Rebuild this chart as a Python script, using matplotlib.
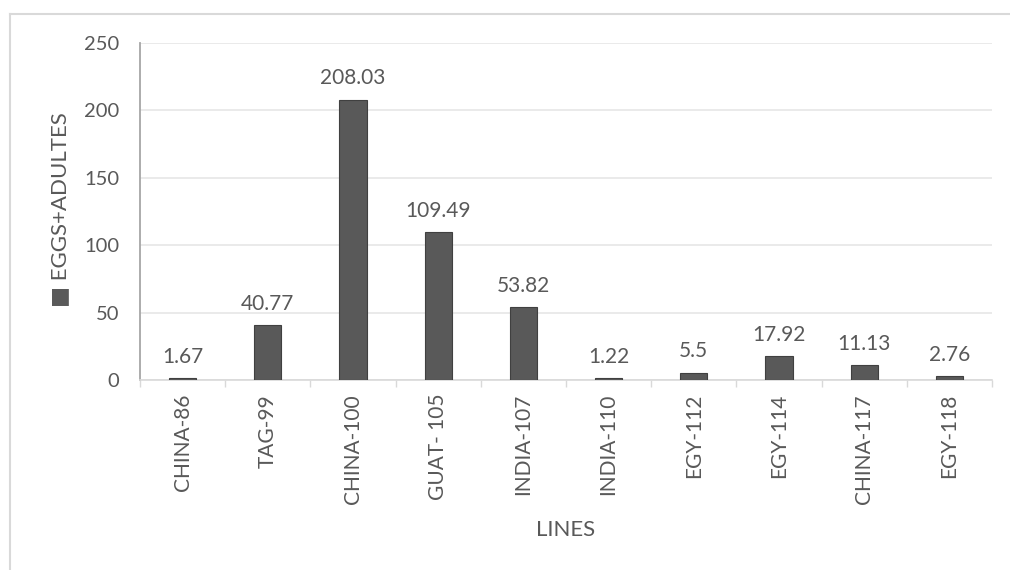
import matplotlib.pyplot as plt
from matplotlib.lines import Line2D

# data
lines = ['CHINA-86', 'TAG-99', 'CHINA-100', 'GUAT- 105', 'INDIA-107',
         'INDIA-110', 'EGY-112', 'EGY-114', 'CHINA-117', 'EGY-118']
eggs_adults = [1.67, 40.77, 208.03, 109.49, 53.82, 1.22, 5.5, 17.92, 11.13, 2.76]
value_labels = ['1.67', '40.77', '208.03', '109.49', '53.82', '1.22', '5.5', '17.92', '11.13', '2.76']
y_ticks = [0, 50, 100, 150, 200, 250]

text_col = '#595959'
plt.rcParams['font.family'] = ['Lato', 'DejaVu Sans']

fig = plt.figure(figsize=(10.1, 5.7), dpi=100)
ax = fig.add_axes([140 / 1010, 1 - 380 / 570, (992 - 140) / 1010, (380 - 43) / 570])

x = list(range(len(lines)))
bars = ax.bar(x, eggs_adults, width=0.32, color='#595959', edgecolor='#404040', linewidth=0.8, zorder=3)

for xi, v, lab in zip(x, eggs_adults, value_labels):
    ax.annotate(lab, (xi, v), xytext=(0, 8), textcoords='offset points',
                ha='center', va='bottom', fontsize=15, color=text_col)

ax.set_xlim(-0.5, len(lines) - 0.5)
ax.set_ylim(0, 250)
ax.set_yticks(y_ticks)
ax.yaxis.grid(True, color='#e6e6e6', linewidth=1.2, zorder=0)
ax.set_axisbelow(True)

ax.set_xticks(x)
ax.set_xticklabels(lines, rotation=90, fontsize=15, color=text_col)
ax.set_xticks([i - 0.5 for i in range(len(lines) + 1)], minor=True)
ax.tick_params(axis='x', which='major', length=0, pad=10)
ax.tick_params(axis='x', which='minor', length=5, color='#d9d9d9', width=1)
ax.tick_params(axis='y', length=0, pad=15, labelsize=14.5, labelcolor=text_col)

for s in ['top', 'right']:
    ax.spines[s].set_visible(False)
ax.spines['left'].set_color('#a6a6a6')
ax.spines['left'].set_linewidth(1.3)
ax.spines['bottom'].set_color('#d9d9d9')
ax.spines['bottom'].set_linewidth(1.2)

fig.text(566 / 1010, 1 - 530 / 570, 'LINES', ha='center', va='center', fontsize=16, color=text_col)
fig.text(60 / 1010, 1 - 210 / 570, '■ EGGS+ADULTES', rotation=90, ha='center', va='center',
         fontsize=16, color=text_col)

# outer chart frame
fig.add_artist(Line2D([10 / 1010, 10 / 1010], [0, 1 - 14 / 570], color='#d9d9d9', linewidth=1.5))
fig.add_artist(Line2D([10 / 1010, 1], [1 - 14 / 570, 1 - 14 / 570], color='#d9d9d9', linewidth=1.5))

fig.savefig('out.png', dpi=100)
